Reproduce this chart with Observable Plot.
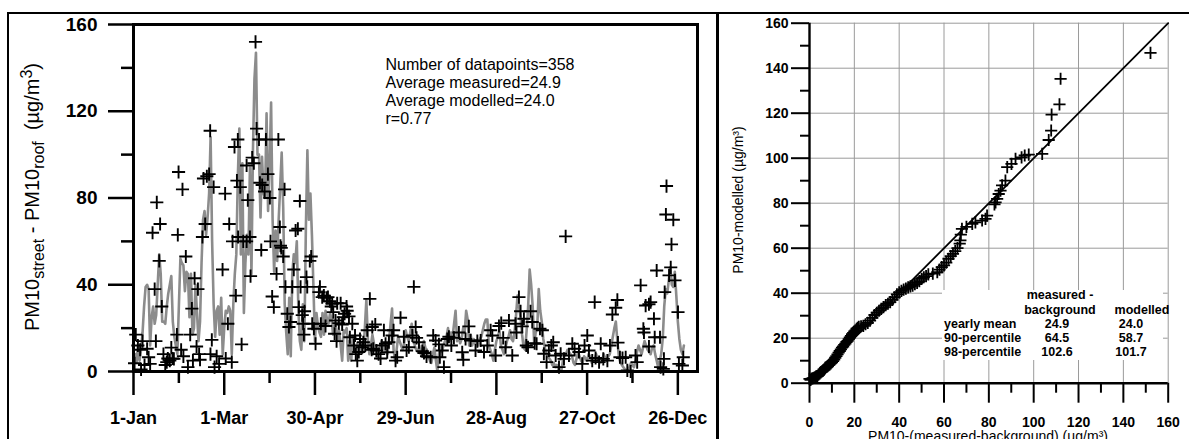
<!DOCTYPE html>
<html><head><meta charset="utf-8">
<script src="https://cdn.jsdelivr.net/npm/d3@7"></script>
<script src="https://cdn.jsdelivr.net/npm/@observablehq/plot@0.6"></script>
<style>
body{margin:0;background:#fff;font-family:"Liberation Sans",Arial,Helvetica,sans-serif;color:#000;}
#fig{position:relative;width:1189px;height:439px;overflow:hidden;background:#fff;}
#left{position:absolute;left:0;top:0;}
#right{position:absolute;left:717px;top:0;}
.ov{position:absolute;top:0;z-index:5;pointer-events:none;}
.bar{position:absolute;background:#000;}
.lab{position:absolute;white-space:nowrap;line-height:1;}
.rot{transform:translate(-50%,-50%) rotate(-90deg);}
#tbl{position:absolute;left:942px;top:290px;width:221px;height:70px;background:#fff;font-weight:bold;font-size:12.5px;}
#tbl span{position:absolute;white-space:nowrap;line-height:14px;}
.ctr{transform:translateX(-50%);}
</style></head>
<body><div id="fig">
<div id="left"></div>
<div id="right"></div>
<div class="bar" style="left:7px;top:12px;width:1182px;height:2px"></div>
<div class="bar" style="left:7px;top:12px;width:2px;height:427px"></div>
<div class="bar" style="left:716px;top:12px;width:2.5px;height:427px"></div>
<div class="lab rot" style="left:33px;top:197px;font-size:20px">PM10<sub style="font-size:80%">street</sub> - PM10<sub style="font-size:80%">roof</sub>&nbsp;&nbsp;(µg/m<sup style="font-size:80%">3</sup>)</div>
<div class="lab rot" style="left:738px;top:200px;font-size:14px">PM10-modelled (µg/m³)</div>
<div class="lab" style="left:988px;top:429px;font-size:14px;transform:translateX(-50%)">PM10-(measured-background) (µg/m³)</div>
<div id="tbl"></div>
<div id="ticksL" class="ov" style="left:0"></div>
<div id="ticksR" class="ov" style="left:717px"></div>
</div>
<script>
// ---- Left panel: daily PM10 street increment (day of year, µg/m3) ----
const measured = [
[0.7,3.8],[1.5,17],[2.9,12],[4.4,10],[5,1],[6,14],[7.3,3],[9,10.5],[10,6.6],[11,3.5],[12.6,64],[14,38],[14.8,14],[15.4,78],[17,51],[17.6,68],[18.7,30],[19.8,8],[21,3],[22,4.3],[22.7,6],[24,5],[25,11],[25.8,6],[26.7,5.8],[28.7,17],[29.3,63],[29.8,92],[31.5,10],[32.4,84],[33,7],[34.6,53],[36,2],[37.5,17],[38.6,29],[39.3,5],[40.4,43],[41.7,11.5],[42.6,38],[43.4,8],[44,5.4],[45.6,62],[46.3,89],[47.4,68],[48.5,90],[50,91],[50.7,111],[50.9,8],[51.8,14.6],[53,85],[53.6,2],[55,7],[56.6,3.5],[58.9,47],[60.6,82],[61,6],[62.4,22],[63.3,68],[65,4.3],[65.5,60],[66.8,103.5],[67.7,35],[68.4,88],[69,107],[69.2,62],[70.6,85],[71.5,12.5],
[72.6,60],[74.8,60],[74.8,95],[75.6,79],[77,62],[77.4,44],[78.5,98.6],[79.6,96],[80.7,152],[81.4,112],[83,107],[83.6,87],[84.5,56],[85.1,86],[86.7,83],[87.6,107],[88.9,91],[90.2,80],[90.6,60],[91.7,34.6],[92.8,29.7],[94.6,45],[95.8,107],[96.8,66.6],[97.2,58],[97.7,57],[99,53],[99.9,84],[100.5,39],[101.7,26.6],[102.8,20.5],[103.9,22.8],[105,39],[106,47],[107.2,65],[108.7,65.8],[109.4,29.7],[110,78.6],[110.5,39],[111.6,26],[112.2,22],[112.7,17],[113.1,27.8],[114.4,43.5],[114.9,39],[116.6,51],[117.5,53],[118.2,22],[119.3,19.7],[120.4,12.8],[122.6,36.6],[123.3,39],[123.9,22],[124.8,34.3],[125.9,35],[127,21],[127.7,34],[128.6,34.3],[129.9,32.4],[130.8,30],[131.4,31.2],[132.1,27.4],[133,17.4],[133.6,23.5],[134.3,14],[134.7,31.5],[135.8,22.3],[137,31.5],[138,21.7],[138.7,25],[139.6,26.6],[140.9,30],[141.3,28],[142.5,25.4],[143.1,15.8],[144.7,22],
[145.8,12],[146.5,16.6],[147,8],[148,5],[149,9],[149.8,15],[151.3,11.2],[152,13.5],[153.3,12],[154.6,19],[156.3,33.5],[157.5,10],[157.9,20.5],[158.6,10.5],[159.9,21.7],[160.7,9.7],[162.1,8],[163.4,6],[164.2,12],
[165.6,19],[166.7,12.8],[167.8,8.9],[168.9,13.5],[171,16.6],[172,19],[173.3,5],[174.4,6.6],[176.6,24.8],[178.8,16],[180.6,9.7],[182.1,11.2],[184.4,16.6],[185.4,39],[186.6,20.5],[187.2,15.5],[188.8,13.5],[191,9.4],[192.1,8.5],[193.8,7],[196.5,6.6],[198.2,16.6],[199.8,14.3],[202,12.5],[202.6,6.6],[204.2,9.7],[205.3,2],[207.5,15],[208.6,16],[210.2,12],[211.9,15.5],[215.2,18],[217.4,8.9],[218.1,5.4],[219.6,15],[221.8,20.8],[222.9,14.3],[226.2,9.7],[227.4,14],[229.6,14.3],[231.8,9],[234,12],[236.2,19],[237.3,16.6],[239.5,7.4],[241.7,21],[243.2,22.3],[244.5,15.5],[246.1,11.2],[248.3,23.5],[250.5,7.4],[252.7,22],[253.3,18],[254.9,34.3],[256,27.8],[257.1,20.8],[258.2,24.3],[259.8,12],[260.9,11.2],[262.6,27.8],[263.7,22.8],[265.3,13],[266.6,12.8],[268.8,19.7],[270.4,19],[271.4,8.2],[273.2,4.3],[274.7,9.7],[276.3,12],[277.6,13.5],[279.2,7.4],[281.4,2],[282.5,8.2],[284.7,5.8],[285.8,62.3],[288,7.4],[290.2,12.8],[291.7,10.5],[294.6,9],[296.8,3.5],[298.3,12],[300.1,16.6],[301.2,9.7],[303.4,5],[305,32],[305.6,6.2],[307.9,4.3],[309,12.8],[310.7,5.8],[313.4,5],[315.1,12],[316.7,26.3],[318.9,29.4],[320,33],[320.4,13.3],[321.7,6.6],[323.4,6.2],[325.5,6.6],[326.6,0.5],[328.8,0],[332,7.4],[333.1,4.3],[335.4,39.7],[337.2,19.7],[337.6,18],[338.7,30.4],[340.9,11.5],[340.9,31],[342,32],[344.2,24.3],[344.7,15.8],[346,46.6],[348.2,15.8],[348.6,2],[350.4,1.2],[350.8,5.8],[351.3,36.6],[352.1,72.4],[352.5,85.5],[354.2,44.3],[355.3,48],[355.8,58.6],[357,70],[358.1,42],[360.1,27.4],[360.7,3.5],[363,2.8],[363.6,6.6]
];
// modelled value for each day of the year (index = day)
const modelled = [
3,8,4,12,5,10,18,30,39,40,
38,12,25,30,22,26,40,54,45,23,
23,22,30,36,40,44,23,16,12,8,
30,52,50,49,37,46,45,25,45,17,
20,40,27,14,23,50,70,74,63,71,
82,108,60,31,16,28,30,17,34,8,
20,28,27,30,28,8,31,45,54,90,
112,54,96,27,50,63,54,94,45,102,
135,147,100,100,71,99,82,80,119,74,
96,124,70,46,65,51,70,85,101,76,
31,18,8,34,7,45,54,50,60,30,
14,10,31,14,66,102,70,82,63,39,
14,27,21,18,16,27,17,28,24,22,
27,24,17,22,20,14,19,12,5,19,
18,20,5,14,5,16,12,9,13,8,
10,12,9,20,33,15,8,12,17,13,
10,6,9,11,14,10,12,9,8,14,
22,29,10,5,10,16,14,12,10,13,
19,16,14,18,22,16,12,10,9,12,
8,10,14,11,10,7,5,4,8,11,
5,0,8,12,9,12,14,16,20,14,
18,16,22,28,14,17,13,15,20,18,
28,24,12,17,12,15,13,14,12,15,
16,19,22,24,24,12,10,8,5,10,
14,16,19,12,10,8,11,14,16,19,
15,14,18,26,35,30,25,17,11,10,
19,30,47,40,30,13,18,20,38,28,
23,15,11,8,7,6,5,3,4,2,
3,1,2,0.5,5,7,8,10,9,8,
7,4,3,6,9,7,5,4,7,6,
5,8,7,4,5,6,8,5,6,4,
5,8,6,5,7,8,12,16,20,23,
14,7,4,3,2,1,0,1,2,4,
3,2,5,9,12,10,8,11,14,12,
10,9,8,11,12,8,5,2,5,8,
15,30,38,36,42,48,40,39,46,35,
23,15,10,8,12
];
const dateTicks = [0, 60, 120, 180, 240, 300, 360];
const dateLabels = ["1-Jan", "1-Mar", "30-Apr", "29-Jun", "28-Aug", "27-Oct", "26-Dec"];
const dateMinorTicks = [30, 90, 150, 210, 270, 330];
const leftYTicks = [0, 40, 80, 120, 160];
const leftYMinor = [20, 60, 100, 140];
const statsLines = ["Number of datapoints=358", "Average measured=24.9", "Average modelled=24.0", "r=0.77"];

// ---- Right panel: quantile-quantile (measured-background vs modelled) ----
const qqMeasured = [0,0.5,1,1.5,2,2.5,3,3.5,4,4.5,5,5.5,6,6.5,7,7.5,8,8.5,9,9.5,10,10.5,11,11.5,12,12.5,13,13.5,14,14.5,15,15.5,16,16.5,17,17.5,18,18.5,19,19.5,20,20.5,21,21.5,22,23,24,25,26,27,28,29,30,31,32,33,34,35,36,37,38,39,40,41,42,43,44,45,46,47,48,49,50,51,52,53,55,57,58,59,60,61,62,63,64,65,66,67,67.3,67.5,68,70,72.6,74,77,78.5,79.2,82.5,83,83.7,84.4,85.2,85.9,87.4,88.2,90.1,91.9,94.6,96,97.8,103.8,106.7,107.8,108,111.5,112,152.1];
const qqModelled = [1.9,1.5,2,2.2,2.4,2.6,3,3.2,3.8,4.2,4.8,5.2,5.6,6,6.8,7.2,7.6,8,8.4,8.8,9.3,9.8,10.5,11.3,12,12.8,13.6,14.3,15,15.8,16.3,17,17.6,18.3,18.8,19.6,20.3,21,21.8,22.4,23,23.5,24.2,24.6,25,25.3,25.5,26.2,26.8,27.8,29,30.3,31.3,32.2,33,33.8,34.7,35.3,36,37,38.2,39.5,40.4,41,41.6,42,42.6,43,43.4,44,44.6,45.4,46.4,47.1,47.6,48.4,48.7,49.3,50.5,51.6,52.4,53.6,55.3,56.5,57.5,58.7,60,62,63.5,66,68.6,69.5,70.8,71.5,72.3,73,74.5,79.5,80.4,81.9,84.1,85.6,87.9,90,96,97.5,99.7,100.4,101.2,101.6,101.9,108.1,112.3,119.4,123.9,135.3,146.8];
const qqTicks = [0, 20, 40, 60, 80, 100, 120, 140, 160];
const qqMinor = [10, 30, 50, 70, 90, 110, 130, 150];
const qqGrid = [20, 40, 60, 80, 100, 120, 140, 160];
const identity = [0, 160];
const tableHeader = ["measured -", "background", "modelled"];
const tableRows = ["yearly mean", "90-percentile", "98-percentile"];
const tableMeasured = ["24.9", "64.5", "102.6"];
const tableModelled = ["24.0", "58.7", "101.7"];

const FONT = "'Liberation Sans', Arial, Helvetica, sans-serif";
const measData = measured.map(([day, value]) => ({day, value}));
const modData = modelled.map((value, day) => ({day, value}));
const qqData = qqMeasured.map((m, i) => ({m, p: qqModelled[i]}));

// left panel geometry (px)
const L = {w: 716, h: 439, ml: 133, mr: 19, mt: 24, mb: 68};
const LX = [0, 373], LY = [0, 160];
const lkx = (LX[1] - LX[0]) / (L.w - L.ml - L.mr);   // data units per px
const lky = (LY[1] - LY[0]) / (L.h - L.mt - L.mb);
const tickLen = {major: 25, minor: 12, xmajor: 24, xminor: 12};
const leftBase = {
  width: L.w, height: L.h,
  marginLeft: L.ml, marginRight: L.mr, marginTop: L.mt, marginBottom: L.mb,
  style: {fontFamily: FONT, color: "#000", background: "none"},
  x: {domain: LX, axis: null},
  y: {domain: LY, axis: null}
};
const leftTickMarks = () => [
  Plot.ruleY(leftYTicks, {x1: 0, x2: -tickLen.major * lkx, stroke: "#000", strokeWidth: 2.5}),
  Plot.ruleY(leftYMinor, {x1: 0, x2: -tickLen.minor * lkx, stroke: "#000", strokeWidth: 2.5}),
  Plot.ruleX(dateTicks, {y1: 0, y2: -tickLen.xmajor * lky, stroke: "#000", strokeWidth: 2.5}),
  Plot.ruleX(dateMinorTicks, {y1: 0, y2: -tickLen.xminor * lky, stroke: "#000", strokeWidth: 2.5})
];

const leftChart = Plot.plot({
  ...leftBase,
  marks: [
    Plot.line(modData, {x: "day", y: "value", stroke: "#8c8c8c", strokeWidth: 2.6}),
    Plot.dot(measData, {x: "day", y: "value", symbol: "plus", r: 4.3, stroke: "#000", strokeWidth: 1.9}),
    Plot.axisY({ticks: leftYTicks, tickSize: 0, tickPadding: 36, fontSize: 19, fontWeight: "bold", label: null}),
    Plot.axisX({ticks: dateTicks, tickSize: 0, tickPadding: 40, tickFormat: (d, i) => dateLabels[i], fontSize: 18, fontWeight: "bold", label: null}),
    Plot.frame({stroke: "#000", strokeWidth: 3}),
    Plot.text([statsLines.join("\n")], {frameAnchor: "top-left", dx: 252, dy: 33, textAnchor: "start", lineAnchor: "top", fontSize: 16, lineHeight: 1.125, fill: "#000"})
  ]
});
document.getElementById("left").append(leftChart);
// tick marks of the left panel, drawn as their own layer on top
document.getElementById("ticksL").append(Plot.plot({...leftBase, marks: leftTickMarks()}));

// right panel geometry (px)
const R = {w: 472, h: 439, ml: 92, mr: 21.3, mt: 22.7, mb: 56.3};
const RD = [0, 160];
const rkx = (RD[1] - RD[0]) / (R.w - R.ml - R.mr);
const rky = (RD[1] - RD[0]) / (R.h - R.mt - R.mb);
const rtickLen = {major: 18, minor: 9, xmajor: 20, xminor: 10};
const rightBase = {
  width: R.w, height: R.h,
  marginLeft: R.ml, marginRight: R.mr, marginTop: R.mt, marginBottom: R.mb,
  style: {fontFamily: FONT, color: "#000", background: "none"},
  x: {domain: RD, axis: null},
  y: {domain: RD, axis: null}
};
const rightTickMarks = () => [
  Plot.ruleY(qqTicks, {x1: 0, x2: -rtickLen.major * rkx, stroke: "#000", strokeWidth: 2}),
  Plot.ruleY(qqMinor, {x1: 0, x2: -rtickLen.minor * rkx, stroke: "#000", strokeWidth: 2}),
  Plot.ruleX(qqTicks, {y1: 0, y2: -rtickLen.xmajor * rky, stroke: "#000", strokeWidth: 2}),
  Plot.ruleX(qqMinor, {y1: 0, y2: -rtickLen.xminor * rky, stroke: "#000", strokeWidth: 2})
];

const rightChart = Plot.plot({
  ...rightBase,
  marks: [
    Plot.gridX(qqGrid, {stroke: "#9a9a9a", strokeOpacity: 1, strokeWidth: 1}),
    Plot.gridY(qqGrid, {stroke: "#9a9a9a", strokeOpacity: 1, strokeWidth: 1}),
    Plot.line(identity, {x: d => d, y: d => d, stroke: "#000", strokeWidth: 1.8}),
    Plot.dot(qqData, {x: "m", y: "p", symbol: "plus", r: 4, stroke: "#000", strokeWidth: 1.8}),
    Plot.ruleX([0], {stroke: "#000", strokeWidth: 2.4}),
    Plot.ruleY([0], {stroke: "#000", strokeWidth: 2.4}),
    Plot.axisY({ticks: qqTicks, tickSize: 0, tickPadding: 21, fontSize: 14, fontWeight: "bold", label: null}),
    Plot.axisX({ticks: qqTicks, tickSize: 0, tickPadding: 34, fontSize: 14, fontWeight: "bold", label: null})
  ]
});
document.getElementById("right").append(rightChart);
document.getElementById("ticksR").append(Plot.plot({...rightBase, marks: rightTickMarks()}));

// table of statistics (legend box, white background)
const tbl = document.getElementById("tbl");
function put(text, x, top, center) {
  const s = document.createElement("span");
  s.textContent = text;
  s.style.left = x + "px";
  s.style.top = top + "px";
  if (center) s.className = "ctr";
  tbl.append(s);
}
const ox = 942, oy = 290;
put(tableHeader[0], 1060 - ox, 288 - oy, true);
put(tableHeader[1], 1060 - ox, 303 - oy, true);
put(tableHeader[2], 1142 - ox, 303 - oy, true);
tableRows.forEach((r, i) => {
  const top = 317.3 + i * 13.8 - oy;
  put(r, 944 - ox, top, false);
  put(tableMeasured[i], 1057 - ox, top, true);
  put(tableModelled[i], 1131 - ox, top, true);
});
</script>
</body></html>
